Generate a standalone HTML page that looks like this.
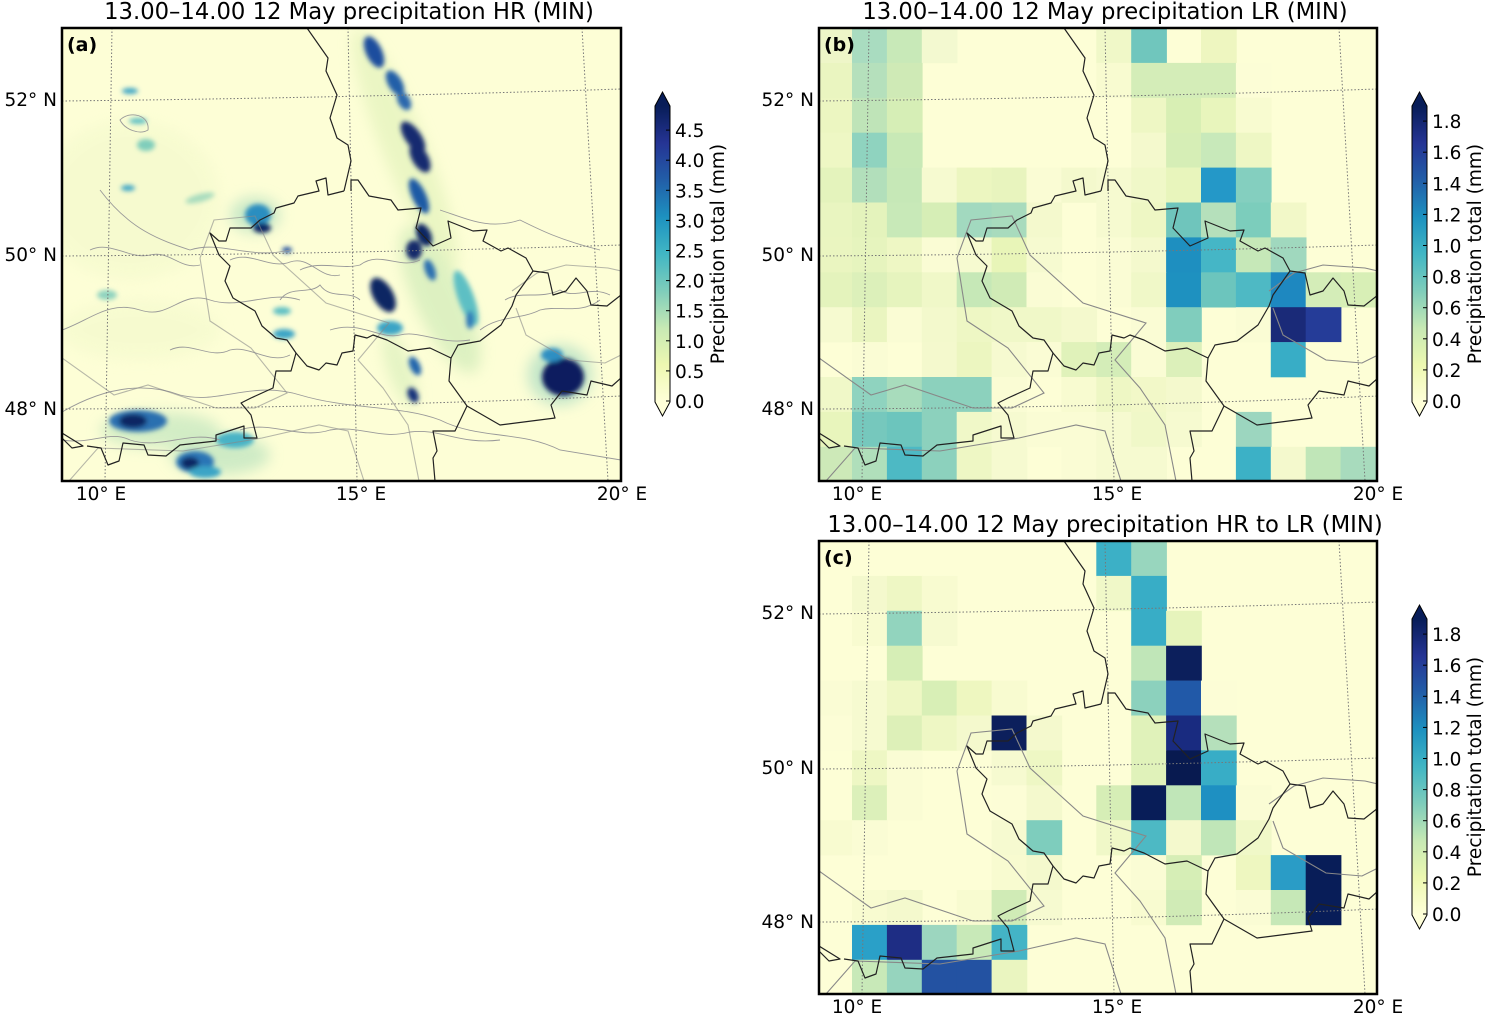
<!DOCTYPE html>
<html><head><meta charset="utf-8"><style>
html,body{margin:0;padding:0;background:#fff;}
svg{display:block;font-family:"DejaVu Sans","Liberation Sans",sans-serif;}
</style></head><body>
<svg id="s" width="1487" height="1015" viewBox="0 0 1487 1015" xmlns="http://www.w3.org/2000/svg">
<defs>
<linearGradient id="cm" x1="0" y1="1" x2="0" y2="0">
<stop offset="0" stop-color="#ffffd9"/><stop offset="0.125" stop-color="#edf8b1"/><stop offset="0.25" stop-color="#c7e9b4"/><stop offset="0.375" stop-color="#7fcdbb"/><stop offset="0.5" stop-color="#41b6c4"/><stop offset="0.625" stop-color="#1d91c0"/><stop offset="0.75" stop-color="#225ea8"/><stop offset="0.875" stop-color="#253494"/><stop offset="1" stop-color="#081d58"/>
</linearGradient>
<filter id="bl" x="-50%" y="-50%" width="200%" height="200%"><feGaussianBlur stdDeviation="2.5"/></filter>
<filter id="bl2" x="-50%" y="-50%" width="200%" height="200%"><feGaussianBlur stdDeviation="7"/></filter>
<clipPath id="ca"><rect x="62" y="28" width="559" height="453"/></clipPath>
<clipPath id="cb"><rect x="819" y="28" width="558" height="453"/></clipPath>
<clipPath id="cc"><rect x="819" y="541" width="558" height="453"/></clipPath>
<g id="grid" fill="none" stroke="#777" stroke-width="1" stroke-dasharray="1.5,2">
<path d="M0 73 Q280 70 559 61"/><path d="M0 228 Q280 226 559 217"/><path d="M0 381 Q280 380 559 368"/>
<path d="M50 0 L43 453"/><path d="M286 0 L295 453"/><path d="M520 0 L546 453"/>
</g>
<g id="bord" fill="none" stroke="#222" stroke-width="1.2" stroke-linejoin="round">
<polyline points="245,0 266,30 264,43 275,67 268,90 275,110 286,117 289,133 282,163"/>
<polyline points="282,163 266,167 264,150 254,153 257,163 236,168 232,175 214,180 212,185 198,192 189,200 168,200 164,213 157,213 148,205 157,227 168,238 163,253 171,270 193,283 200,298 214,310 225,312 234,325 245,338 257,342 264,335 275,337 280,325 291,323 293,307 305,310 311,307 325,312 346,323 368,320 389,330 396,317 418,313 439,297 450,278 454,267 471,243 464,230 446,220 439,223 421,213 425,202 411,203 386,193 389,210 371,218 354,200 359,180 336,182 329,172 307,168 296,152 289,152 289,163"/>
<polyline points="471,243 486,245 491,267 504,263 514,250 525,263 529,277 545,278 559,267"/>
<polyline points="559,350 550,358 529,353 525,367 500,363 489,377 493,390 438,397 405,378 387,353 389,330"/>
<polyline points="405,378 393,403 371,403 375,423 371,430 373,453"/>
<polyline points="234,325 229,343 214,343 211,360 189,370 179,375 189,387 195,410 182,410 182,398 154,407 154,413 118,417 104,428 86,427 82,417 61,415 57,433 46,437 39,420 25,418"/>
<polyline points="0,405 21,418 10,420 0,410"/>
</g>
<g id="gbord" fill="none" stroke="#888" stroke-width="1.1">
<polyline points="0,330 52,367 86,357 154,380 193,380 225,365 189,320 148,293 138,230 152,192 193,188 211,227 264,275 327,295 296,332 321,360 346,397 357,453"/>
<polyline points="7,453 36,420 121,423 200,410 257,397 286,403 302,453"/>
<polyline points="450,263 475,245 504,237 546,240 559,243"/>
<polyline points="454,280 464,307 507,332 543,335 559,327"/>
</g>
</defs>
<rect width="1487" height="1015" fill="#fff"/>

<g font-size="22.7" fill="#000" text-anchor="middle">
<text x="349" y="19">13.00–14.00  12 May precipitation HR (MIN)</text>
<text x="1105" y="19">13.00–14.00  12 May precipitation LR (MIN)</text>
<text x="1105" y="532">13.00–14.00  12 May precipitation HR to LR (MIN)</text>
</g>

<!-- Panel A -->
<g clip-path="url(#ca)">
<rect x="62" y="28" width="559" height="453" fill="#fdfed6"/>
<g filter="url(#bl2)" opacity="0.6">
<ellipse cx="405" cy="150" rx="22" ry="130" fill="#dff1b8" transform="rotate(-22 405 150)"/>
<ellipse cx="440" cy="300" rx="25" ry="80" fill="#c8e8b4" transform="rotate(-25 440 300)"/>
<ellipse cx="400" cy="370" rx="12" ry="40" fill="#d4edb8" transform="rotate(-20 400 370)"/>
<ellipse cx="560" cy="375" rx="32" ry="30" fill="#9bd6c0"/>
<ellipse cx="160" cy="430" rx="60" ry="18" fill="#b8e2bb"/>
<ellipse cx="220" cy="455" rx="50" ry="20" fill="#b0dfbb"/>
<ellipse cx="255" cy="215" rx="25" ry="18" fill="#a8dcbe"/>
<ellipse cx="130" cy="200" rx="90" ry="80" fill="#f3f9cc"/>
<ellipse cx="140" cy="330" rx="80" ry="30" fill="#f3f9cc"/>
</g>
<g filter="url(#bl)">
<ellipse cx="374" cy="52" rx="8" ry="17" fill="#1d4e9e" transform="rotate(-25 374 52)"/>
<ellipse cx="395" cy="83" rx="7" ry="14" fill="#225ea8" transform="rotate(-30 395 83)"/>
<ellipse cx="404" cy="101" rx="6" ry="10" fill="#2a67ad" transform="rotate(-30 404 101)"/>
<ellipse cx="413" cy="137" rx="8" ry="18" fill="#142a70" transform="rotate(-35 413 137)"/>
<ellipse cx="420" cy="158" rx="8" ry="16" fill="#142a70" transform="rotate(-30 420 158)"/>
<ellipse cx="419" cy="196" rx="7" ry="19" fill="#1d5aa5" transform="rotate(-25 419 196)"/>
<ellipse cx="424" cy="235" rx="7" ry="12" fill="#0f2563" transform="rotate(-25 424 235)"/>
<ellipse cx="414" cy="250" rx="8" ry="10" fill="#122a6b"/>
<ellipse cx="430" cy="270" rx="5" ry="11" fill="#2a6fb0" transform="rotate(-20 430 270)"/>
<ellipse cx="383" cy="295" rx="10" ry="19" fill="#0f2563" transform="rotate(-30 383 295)"/>
<ellipse cx="466" cy="298" rx="8" ry="29" fill="#5dbfc4" transform="rotate(-20 466 298)"/>
<ellipse cx="470" cy="320" rx="4" ry="9" fill="#2f7ab8"/>
<ellipse cx="390" cy="328" rx="13" ry="7" fill="#3aa4c6"/>
<ellipse cx="415" cy="366" rx="5" ry="10" fill="#2166ad" transform="rotate(-25 415 366)"/>
<ellipse cx="413" cy="395" rx="5" ry="8" fill="#14307a" transform="rotate(-25 413 395)"/>
<ellipse cx="563" cy="377" rx="21" ry="19" fill="#0b1f5e"/>
<ellipse cx="552" cy="355" rx="11" ry="7" fill="#2d8fc2"/>
<ellipse cx="258" cy="215" rx="13" ry="11" fill="#2c8ec0"/>
<ellipse cx="262" cy="228" rx="9" ry="5" fill="#0f2563"/>
<ellipse cx="287" cy="250" rx="5" ry="3" fill="#1d4e9e"/>
<ellipse cx="138" cy="421" rx="29" ry="11" fill="#2a6fb0"/>
<ellipse cx="133" cy="421" rx="14" ry="7" fill="#0f2563"/>
<ellipse cx="195" cy="462" rx="19" ry="11" fill="#2a75b5"/>
<ellipse cx="190" cy="463" rx="9" ry="6" fill="#0f2563"/>
<ellipse cx="235" cy="440" rx="19" ry="8" fill="#48b3c6"/>
<ellipse cx="205" cy="472" rx="16" ry="6" fill="#3aa4c6"/>
<ellipse cx="130" cy="91" rx="8" ry="3" fill="#3aa4c6"/>
<ellipse cx="138" cy="121" rx="9" ry="3" fill="#5dbfc4"/>
<ellipse cx="146" cy="145" rx="9" ry="6" fill="#7fcdbb"/>
<ellipse cx="107" cy="295" rx="10" ry="5" fill="#8fd3bf"/>
<ellipse cx="282" cy="311" rx="9" ry="4" fill="#5dbfc4"/>
<ellipse cx="284" cy="334" rx="11" ry="5" fill="#3aa4c6"/>
<ellipse cx="200" cy="198" rx="15" ry="4" fill="#a8dcbe" transform="rotate(-15 200 198)"/>
<ellipse cx="128" cy="188" rx="7" ry="3" fill="#3aa4c6"/>
</g>
<g fill="none" stroke="#999" stroke-width="0.9">
<path d="M62 412 C100 390 140 380 180 395 C220 405 250 380 300 395 C350 410 400 405 440 420 C480 440 520 430 560 450 L621 460"/>
<path d="M62 330 C90 320 110 300 140 310 C170 320 180 290 210 300 C240 310 270 290 300 300"/>
<path d="M100 190 C130 230 160 240 190 250 C220 240 250 260 290 250"/>
<path d="M300 270 C320 260 340 270 360 265 C380 250 400 270 420 260"/>
<path d="M330 330 C360 320 380 340 400 335 C420 330 440 345 470 340"/>
<path d="M120 120 C130 110 150 115 148 130 C140 135 125 130 120 120Z"/>
<path d="M440 210 C470 220 490 230 520 220 C540 230 560 240 600 250"/>
<path d="M480 330 C500 315 520 320 540 310 C560 305 580 315 600 300"/>
<path d="M62 440 C90 445 110 430 130 440 C160 450 190 430 220 440"/>
<path d="M240 430 C270 420 300 440 330 430 C360 425 380 440 410 432 C440 428 460 445 500 440"/>
<path d="M90 250 C110 240 130 260 150 255 C170 250 180 270 200 265"/>
<path d="M230 260 C250 250 270 270 290 262 C310 255 320 280 340 275"/>
<path d="M280 300 C290 285 310 295 320 285 C330 300 350 290 360 300"/>
<path d="M170 350 C190 340 210 360 230 350 C250 345 270 365 290 355"/>
<path d="M505 300 C520 290 540 300 560 290 C575 300 590 285 610 295"/>
</g>
<g transform="translate(62,28)"><use href="#grid"/><use href="#gbord" opacity="0.6"/><use href="#bord"/></g>
</g>
<rect x="62" y="28" width="559" height="453" fill="none" stroke="#000" stroke-width="2.5"/>
<text x="67" y="51" font-size="19" font-weight="bold">(a)</text>

<g id="pb" clip-path="url(#cb)"><rect x="819" y="28" width="558" height="453" fill="#fdfed6"/></g>
<g id="pc" clip-path="url(#cc)"><rect x="819" y="541" width="558" height="453" fill="#fdfed6"/></g>
<g id="ob" clip-path="url(#cb)"><g transform="translate(819,28)"><use href="#grid"/><use href="#gbord"/><use href="#bord"/></g></g>
<g id="oc" clip-path="url(#cc)"><g transform="translate(819,541)"><use href="#grid"/><use href="#gbord"/><use href="#bord"/></g></g>
<rect x="819" y="28" width="558" height="453" fill="none" stroke="#000" stroke-width="2.5"/>
<rect x="819" y="541" width="558" height="453" fill="none" stroke="#000" stroke-width="2.5"/>
<text x="824" y="51" font-size="19" font-weight="bold">(b)</text>
<text x="824" y="564" font-size="19" font-weight="bold">(c)</text>

<g font-size="18.5" fill="#000">
<g text-anchor="end">
<text x="57" y="106">52° N</text><text x="57" y="261">50° N</text><text x="57" y="415">48° N</text>
<text x="814" y="106">52° N</text><text x="814" y="261">50° N</text><text x="814" y="415">48° N</text>
<text x="814" y="619">52° N</text><text x="814" y="774">50° N</text><text x="814" y="928">48° N</text>
</g>
<g text-anchor="middle">
<text x="101" y="500">10° E</text><text x="361" y="500">15° E</text><text x="622" y="500">20° E</text>
<text x="857" y="500">10° E</text><text x="1117" y="500">15° E</text><text x="1378" y="500">20° E</text>
<text x="857" y="1013">10° E</text><text x="1117" y="1013">15° E</text><text x="1378" y="1013">20° E</text>
</g>
</g>

<g id="cbars"></g>
</svg>
<script>
var NS="http://www.w3.org/2000/svg";
function el(t,a,p){var e=document.createElementNS(NS,t);for(var k in a)e.setAttribute(k,a[k]);(p||document.getElementById('s')).appendChild(e);return e;}
var Y=null;
var B=[
['eef6c8','a9dcc0','c8e9b8','f3f9d0',Y,Y,Y,Y,'f0f8c8','70c6bd',Y,'eef6c0',Y,Y,Y,Y],
['eaf5c0','b5e0bc','cfeab6',Y,Y,Y,Y,Y,'f8fbd0','d4edb8','d4edb8','d4edb8','fcfdd6',Y,Y,Y],
['ecf6c1','bfe4b8','d6eeb6',Y,Y,Y,Y,Y,Y,'eef7c4','d8efb4','e8f5bc','f8fbd0',Y,Y,Y],
['eef7c4','8fd3bf','c8e9b6',Y,Y,Y,Y,Y,Y,'f4f9cd','d6eeb6','c8e9ba','eef7c4',Y,Y,Y],
['e4f3bc','b2dfbb','c6e8b7','f6fad0','ecf6c0','e8f4be','fafcd4','f4f9cd','f6fad0','f0f8c8','e8f5bc','2498c8','84cfbf',Y,Y,Y],
['e9f5c0','e4f3bc','c8e9b8','d6eeb6','a2d9bf','a8dbbd','f4f9cd',Y,'f6fad0','eef7c4','6fc5bc','b5e0bb','7ccdbc','f2f8c8',Y,Y],
['eaf5c0','e6f4be','eef7c4','fafcd4','f6fad0','e8f5b8','f6fad0',Y,'fafcd4','f4f9cd','1e8fc0','45b6c6','c6e8b8','a0d8be',Y,Y],
['e4f3bc','dcf0ba','e6f4be','f0f8c8','c6e8b7','d0ebb6','fafcd4',Y,'fafcd4','f0f8c8','1e91c0','6cc5bd','4eb9c4','1e88c0','d4edb8','d8efb6'],
['f6fad0','eaf5c0','fafcd4','f3f9cc','eef7c4','f0f8c8','f0f8c8','f4f9cd',Y,'fafcd4','80cdbd',Y,'fafcd4','1a2a78','253c98',Y],
[Y,'fafcd4',Y,'f4f9cd','ecf6c0','f6fad0','fafcd4','e0f2ba','d4edb8','fafcd4','dcf0ba',Y,Y,'38adc6','fdfed6',Y],
['f0f8c8','8fd3bf','a8dcbc','8cd1bd','8cd1bd','fafcd4',Y,'f8fbd0','eef7c4','f2f8c8','f4f9cd',Y,Y,Y,Y,Y],
['e8f5bc','76c8bd','6cc5bd','8cd1bd','f0f8c8','f6fad0','fafcd4','fafcd4','f6fad0','f0f8c8','f6fad0',Y,'9cd6bf',Y,Y,Y],
['cde9b8','b0dfbb','4db9c4','8cd1bd','eef7c4','f6fad0',Y,'fafcd4','f6fad0','f6fad0',Y,Y,'3cb1c6','f4f9cd','c0e6b8','a8dbbd']];
var C={
0:{8:'3cb0c6',9:'98d6be'},
1:{1:'f4f9cd',2:'eef7c4',3:'f8fbd0',8:'f0f8c8',9:'38adc6'},
2:{1:'f8fbd0',2:'92d4be',3:'f6fad0',9:'38adc6',10:'e6f4bc'},
3:{2:'d6eeb6',9:'c0e6b8',10:'0c1f5c'},
4:{0:'fafcd4',1:'f6fad0',2:'eef7c4',3:'d8efb6',4:'eef7c0',5:'f8fbd0',9:'8cd1bd',10:'2159a8',11:'fcfdd6'},
5:{0:'fcfdd6',1:'f6fad0',2:'ddf0b8',3:'eef7c4',4:'f4f9cd',5:'0c1f5c',6:'f4f9cd',9:'e0f2ba',10:'192b80',11:'b5e0bb'},
6:{1:'eef7c4',2:'fafcd4',5:'f6fad0',6:'eef7c4',9:'e0f2ba',10:'081a50',11:'38adc6'},
7:{1:'dcf0ba',2:'fafcd4',5:'fcfdd6',6:'f4f9cd',8:'d6eeb6',9:'081d58',10:'c0e6b8',11:'1e90c2',12:'fafcd4'},
8:{0:'f8fbd0',1:'fafcd4',5:'f6fad0',6:'7ecdbd',8:'f0f8c8',9:'4db9c4',10:'f4f9cd',11:'c0e6b8',12:'f0f8c8'},
9:{5:'f8fbd0',6:'f4f9cd',9:'fafcd4',10:'d6eeb6',12:'eef7c0',13:'2a9cc6',14:'081d58'},
10:{1:'f8fbd0',2:'f4f9cd',4:'f8fbd0',5:'d0ebb6',6:'f6fad0',9:'f8fbd0',10:'d0ebb6',12:'fafcd4',13:'c6e8b7',14:'081d58'},
11:{1:'2aa0c8',2:'1e2d84',3:'9cd6bf',4:'c8e9b8',5:'44b4c6'},
12:{1:'c8e9b8',2:'96d4be',3:'2352a2',4:'2352a2',5:'eaf5c0'}};
function cells(g,y0,get){
 for(var r=0;r<13;r++)for(var c=0;c<16;c++){var col=get(r,c);if(!col)continue;
  var x=c==0?819:852+34.9*(c-1), w=c==0?33:34.9+0.5;
  el('rect',{x:x,y:y0+34.9*r,width:w+0.3,height:35.2,fill:'#'+col},g);}
}
cells(document.getElementById('pb'),28,function(r,c){return B[r][c];});
cells(document.getElementById('pc'),541,function(r,c){return C[r][c]||null;});
var cb=document.getElementById('cbars');
function cbar(x,dy,step,labels){
 var top=92+dy,rt=106+dy,rb=402+dy,bot=416+dy,w=15;
 el('path',{d:'M'+x+' '+rt+' L'+(x+w/2)+' '+top+' L'+(x+w)+' '+rt+' Z',fill:'#081d58'},cb);
 el('path',{d:'M'+x+' '+rb+' L'+(x+w/2)+' '+bot+' L'+(x+w)+' '+rb+' Z',fill:'#ffffd9'},cb);
 el('rect',{x:x,y:rt,width:w,height:rb-rt,fill:'url(#cm)'},cb);
 el('path',{d:'M'+x+' '+rt+' L'+(x+w/2)+' '+top+' L'+(x+w)+' '+rt+' L'+(x+w)+' '+rb+' L'+(x+w/2)+' '+bot+' L'+x+' '+rb+' Z',fill:'none',stroke:'#000','stroke-width':1},cb);
 for(var i=0;i<labels.length;i++){var y=401+dy-i*step;
  el('line',{x1:x+w-4,y1:y,x2:x+w,y2:y,stroke:'#000','stroke-width':1},cb);
  var t=el('text',{x:x+w+5,y:y+7,'font-size':18.5},cb);t.textContent=labels[i];}
 var t=el('text',{x:0,y:0,'font-size':18.5,'text-anchor':'middle',transform:'translate('+(x+w+54)+','+(254+dy)+') rotate(-90)'},cb);
 t.textContent='Precipitation total (mm)';
}
cbar(655,0,30.1,['0.0','0.5','1.0','1.5','2.0','2.5','3.0','3.5','4.0','4.5']);
cbar(1412,0,31.1,['0.0','0.2','0.4','0.6','0.8','1.0','1.2','1.4','1.6','1.8']);
cbar(1412,513,31.1,['0.0','0.2','0.4','0.6','0.8','1.0','1.2','1.4','1.6','1.8']);
</script>
</body></html>
